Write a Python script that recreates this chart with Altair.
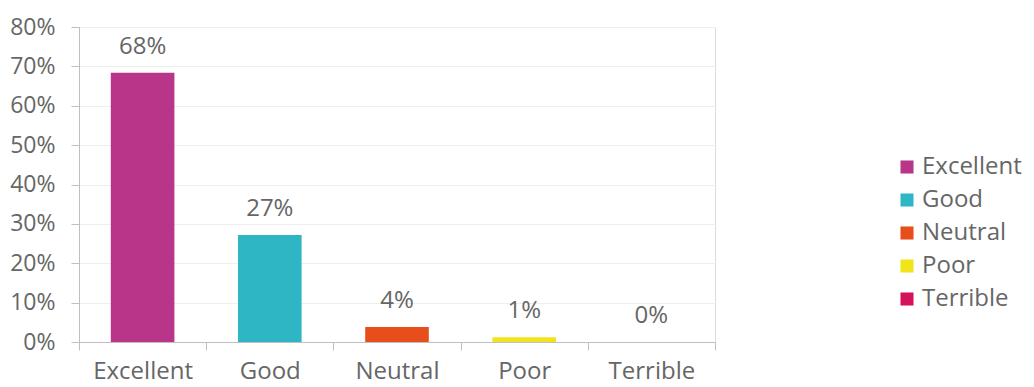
import altair as alt
import pandas as pd

# Survey ratings and the share of responses for each
ratings = ["Excellent", "Good", "Neutral", "Poor", "Terrible"]
shares = [0.684, 0.272, 0.038, 0.012, 0.0]
colors = ["#B8358A", "#2EB6C4", "#E84E1B", "#F1E41B", "#D6135A"]
y_ticks = [0, 0.1, 0.2, 0.3, 0.4, 0.5, 0.6, 0.7, 0.8]

df = pd.DataFrame({"rating": ratings, "share": shares})

FONT = "Open Sans"
GREY = "#666666"
AXIS_GREY = "#BFBFBF"

x = alt.X(
    "rating:N",
    sort=ratings,
    title=None,
    scale=alt.Scale(paddingInner=0, paddingOuter=0),
    axis=alt.Axis(
        labelAngle=0,
        labelFont=FONT,
        labelFontSize=24,
        labelColor=GREY,
        labelPadding=9,
        labelOverlap=False,
        tickBand="extent",
        tickSize=8,
        tickColor=AXIS_GREY,
        domainColor=AXIS_GREY,
        grid=False,
    ),
)

y = alt.Y(
    "share:Q",
    title=None,
    scale=alt.Scale(domain=[0, 0.8], nice=False),
    axis=alt.Axis(
        format=".0%",
        values=y_ticks,
        labelFont=FONT,
        labelFontSize=23,
        labelColor=GREY,
        labelPadding=16,
        labelOverlap=False,
        tickSize=8,
        tickColor=AXIS_GREY,
        domainColor=AXIS_GREY,
        gridColor="#EFEFEF",
    ),
)

base = alt.Chart(df).encode(x=x, y=y)

bars = base.mark_bar(width=alt.RelativeBandSize(0.5)).encode(
    color=alt.Color(
        "rating:N",
        sort=ratings,
        scale=alt.Scale(domain=ratings, range=colors),
        legend=alt.Legend(
            title=None,
            orient="none",
            legendX=816,
            legendY=128,
            symbolType="square",
            symbolSize=170,
            symbolStrokeWidth=0,
            labelFont=FONT,
            labelFontSize=24,
            labelColor=GREY,
            labelOffset=3,
            rowPadding=9,
        ),
    ),
)

labels = base.mark_text(
    font=FONT, fontSize=24, color=GREY, baseline="middle", dy=-26
).encode(
    text=alt.Text("share:Q", format=".0%"),
)

chart = (
    alt.layer(bars, labels)
    .properties(
        width=636,
        height=315,
        autosize=alt.AutoSizeParams(type="none"),
        padding={"left": 79, "top": 27, "right": 319, "bottom": 45},
    )
    .configure_view(stroke=None)
    .configure(background="white")
)

chart.save("out.html", embed_options={"renderer": "svg", "actions": False})
